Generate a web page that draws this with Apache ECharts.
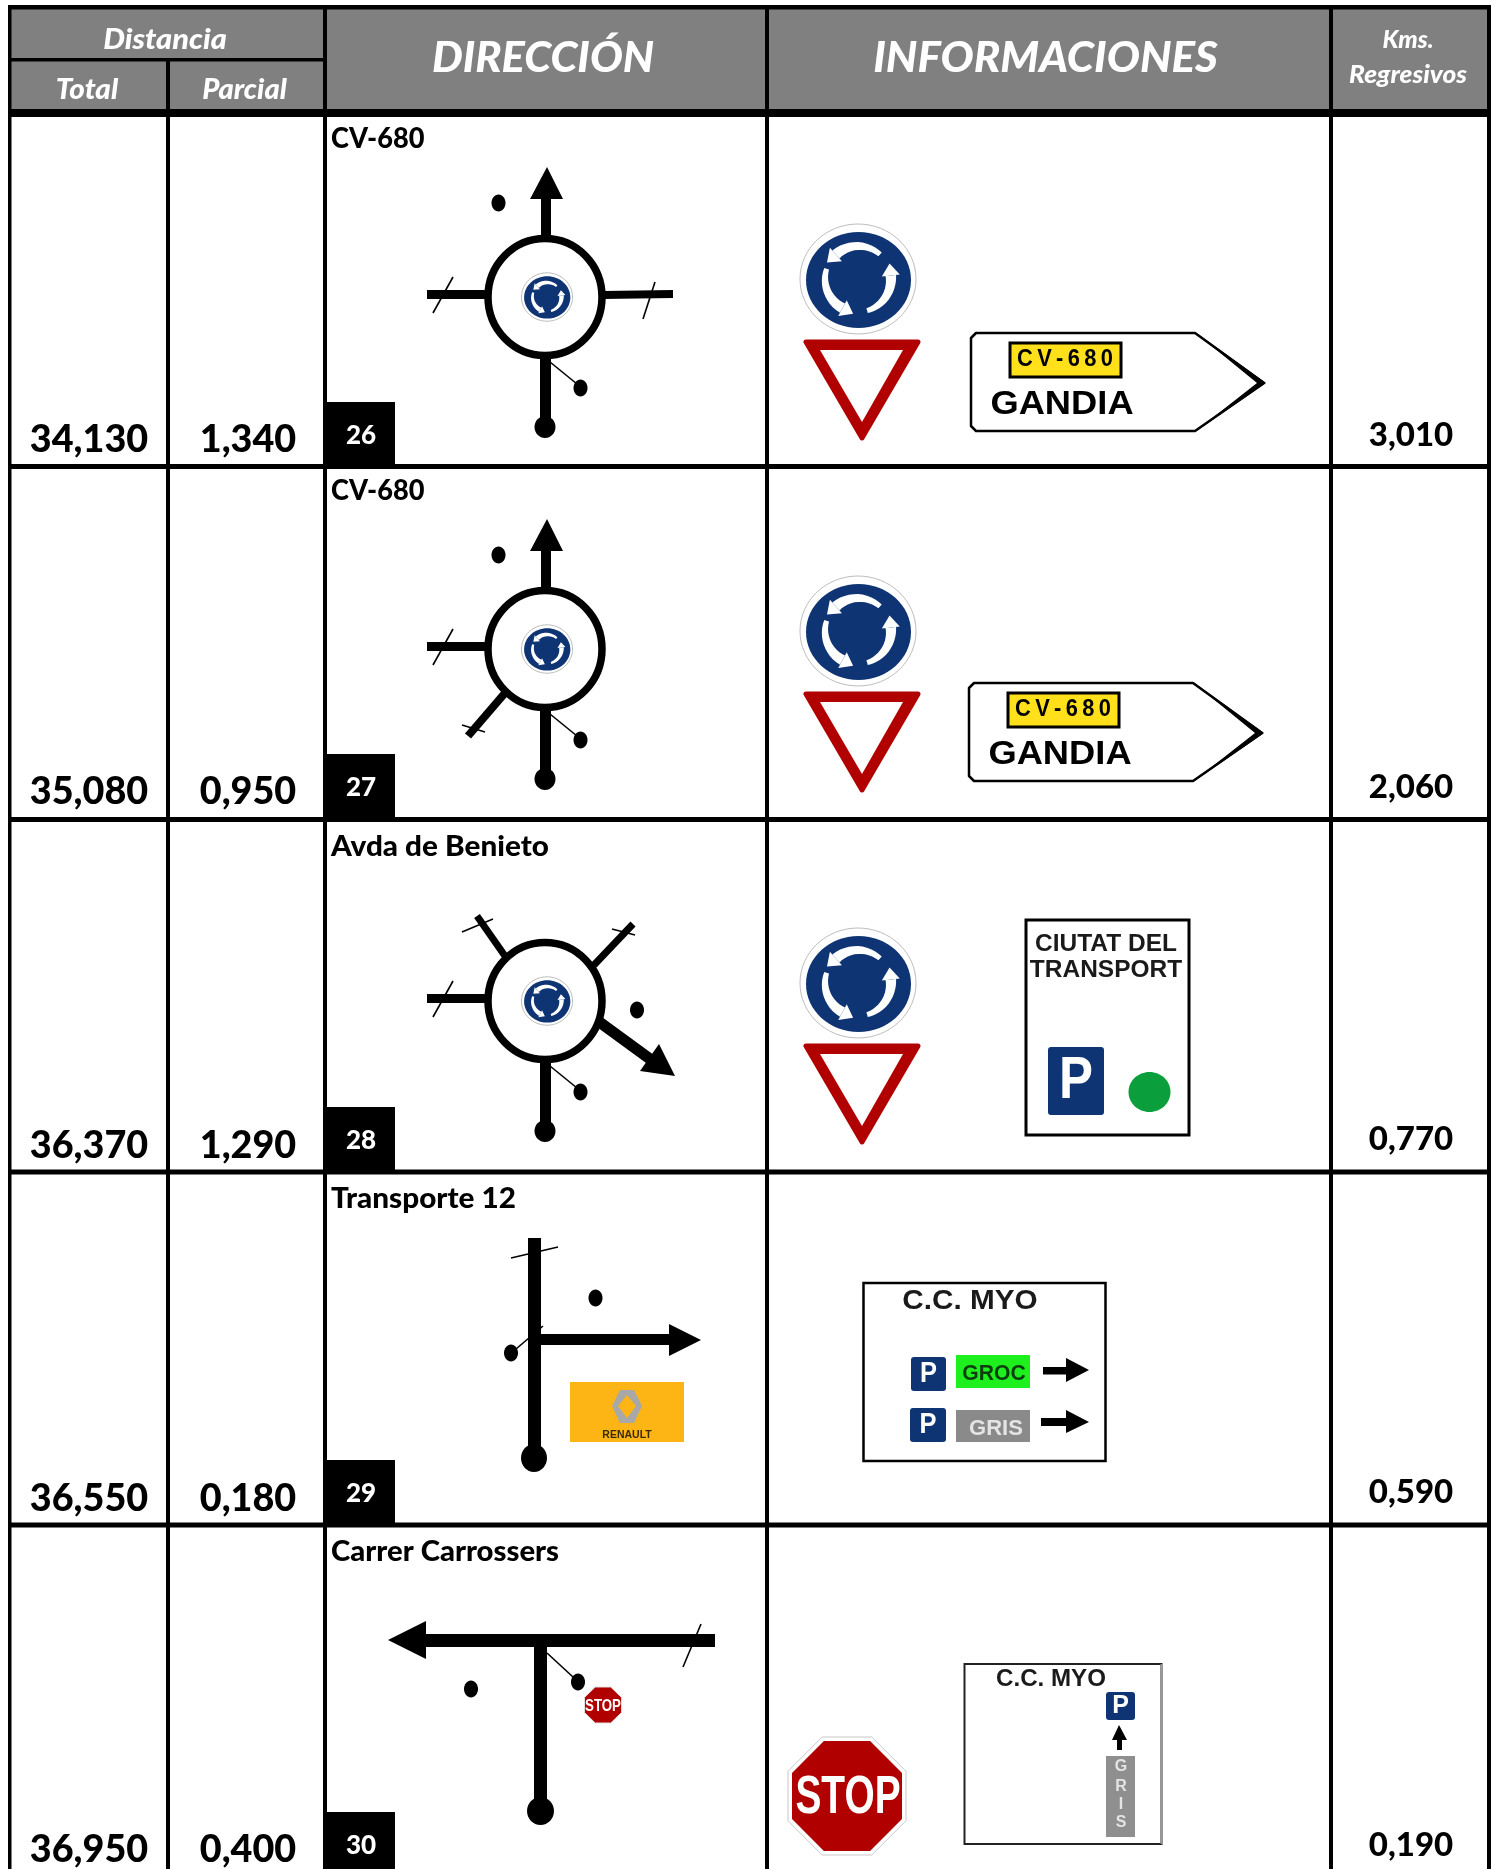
<!DOCTYPE html>
<html>
<head>
<meta charset="utf-8">
<title>Rutometro</title>
<style>
  html, body { margin: 0; padding: 0; background: #fff; }
  #main { width: 1497px; height: 1869px; }
</style>
<script src="https://cdn.jsdelivr.net/npm/echarts@6/dist/echarts.min.js"></script>
</head>
<body>
<div id="main"></div>
<script>
// valores de la tabla
const ids = [26, 27, 28, 29, 30]
const totals = ['34,130', '35,080', '36,370', '36,550', '36,950']
const partials = ['1,340', '0,950', '1,290', '0,180', '0,400']
const regressive = ['3,010', '2,060', '0,770', '0,590', '0,190']
const streets = ['CV-680', 'CV-680', 'Avda de Benieto', 'Transporte 12', 'Carrer Carrossers']
const headers = ['Distancia', 'Total', 'Parcial', 'DIRECCIÓN', 'INFORMACIONES', 'Kms.', 'Regresivos']

const WIDTH = 1497
const HEIGHT = 1869
const RIGHT = 1491
const GREY = '#808080'
const BLUE = '#0f3474'
const RED = '#b10000'
const BODY_FONT = 'Lato, Carlito, sans-serif'
const SIGN_FONT = '"Liberation Sans", Arial, sans-serif'

// filas: centro vertical de los textos y lineas
const rowLines = [466.5, 819.5, 1172, 1525]
const numberY = [440, 792, 1146, 1499, 1850]
const regressiveY = [435, 787, 1139, 1492, 1845]
const streetY = [139, 491, 847, 1199, 1552]
const streetScale = [0.97, 0.97, 1.06, 1.06, 1.045]
const idBoxTop = [402, 754, 1107, 1460, 1812]
const idBoxBottom = [466, 818, 1171, 1524, 1869]

/**
 * helpers de dibujo, todo pasa por los ejes
 */
function makeKit (api) {
  const c = (x, y) => api.coord([x, y])
  const pts = list => list.map(p => c(p[0], p[1]))
  const kit = {
    rect (x, y, w, h, fill, stroke, lw, r) {
      const p = c(x, y)
      return {
        type: 'rect',
        shape: { x: p[0], y: p[1], width: w, height: h, r: r || 0 },
        style: { fill: fill || 'none', stroke: stroke || 'none', lineWidth: lw || 0 }
      }
    },
    ellipse (x, y, rx, ry, fill, stroke, lw) {
      const p = c(x, y)
      return {
        type: 'ellipse',
        shape: { cx: p[0], cy: p[1], rx: rx, ry: ry },
        style: { fill: fill || 'none', stroke: stroke || 'none', lineWidth: lw || 0 }
      }
    },
    dot (x, y, r) {
      return kit.ellipse(x, y, r - 0.5, r + 1, '#000')
    },
    poly (list, fill, stroke, lw) {
      return {
        type: 'polygon',
        shape: { points: pts(list) },
        style: { fill: fill || 'none', stroke: stroke || 'none', lineWidth: lw || 0, lineJoin: 'round' }
      }
    },
    line (list, w, color) {
      return {
        type: 'polyline',
        shape: { points: pts(list) },
        style: { fill: 'none', stroke: color || '#000', lineWidth: w }
      }
    },
    text (str, x, y, font, fill, align, sx) {
      const p = c(x, y)
      return {
        type: 'text',
        x: p[0],
        y: p[1],
        scaleX: sx || 1,
        style: { text: str, font: font, fill: fill || '#000', textAlign: align || 'center', textVerticalAlign: 'middle' }
      }
    }
  }
  return kit
}

// flecha con punta triangular
function arrowHead (k, tip, a, b) {
  return k.poly([tip, a, b], '#000')
}

function roundSign (k, cx, cy, s) {
  const rx = 58 * s
  const ry = 55 * s
  const out = [
    k.ellipse(cx, cy, rx, ry, '#fff', '#bdbdbd', 1),
    k.ellipse(cx + 0.5 * s, cy + 1 * s, 52.5 * s, 48 * s, BLUE)
  ]
  // tres flechas curvas, sentido antihorario, se ensanchan hacia la punta
  const r = 33 * s
  const arcs = [[-48, -132], [198, 118], [74, -6]]
  arcs.forEach(function (arc) {
    const outer = []
    const inner = []
    const steps = 12
    for (let i = 0; i <= steps; i++) {
      const ang = (arc[0] + (arc[1] - arc[0]) * i / steps) * Math.PI / 180
      const w = (2.5 + 2.8 * i / steps) * s
      outer.push([cx + (r + w) * Math.cos(ang), cy + (r + w) * Math.sin(ang)])
      inner.unshift([cx + (r - w) * Math.cos(ang), cy + (r - w) * Math.sin(ang)])
    }
    out.push(k.poly(outer.concat(inner), '#fff'))
    const e = arc[1] * Math.PI / 180
    const ex = cx + r * Math.cos(e)
    const ey = cy + r * Math.sin(e)
    const tx = Math.sin(e)
    const ty = -Math.cos(e)
    out.push(k.poly([
      [ex + tx * 12 * s, ey + ty * 12 * s],
      [ex + Math.cos(e) * 9 * s, ey + Math.sin(e) * 9 * s],
      [ex - Math.cos(e) * 9 * s, ey - Math.sin(e) * 9 * s]
    ], '#fff'))
  })
  return out
}

function yieldSign (k, dy) {
  return [
    k.poly([[806, 342 + dy], [918, 342 + dy], [862, 438 + dy]], RED, RED, 5),
    k.poly([[820, 350 + dy], [903, 350 + dy], [862, 422 + dy]], '#fff')
  ]
}

function parkingSign (k, x, y, w, h) {
  return [
    k.rect(x, y, w, h, BLUE, null, 0, 3),
    k.text('P', x + w / 2, y + h * 0.5, 'bold ' + Math.round(h * 0.88) + 'px ' + SIGN_FONT, '#fff', 'center', w < 32 ? 1 : 0.85)
  ]
}

function octagon (k, cx, cy, rx, ry, fill, stroke, lw) {
  const a = 0.42
  return k.poly([
    [cx - rx * a, cy - ry], [cx + rx * a, cy - ry], [cx + rx, cy - ry * a], [cx + rx, cy + ry * a],
    [cx + rx * a, cy + ry], [cx - rx * a, cy + ry], [cx - rx, cy + ry * a], [cx - rx, cy - ry * a]
  ], fill, stroke, lw)
}

// cruces de cada fila
function roundabout (k, dy, arms) {
  const cy = 297 + dy
  return [
    k.rect(427, 290 + dy, 60, 9, '#000'),
    k.line([[453, 277 + dy], [433, 313 + dy]], 1.6),
    k.rect(540, 359 + dy - 3, 11, 72, '#000')
  ].concat(arms, [
    k.ellipse(545, cy, 57, 58.5, '#fff', '#000', 7.5),
    k.ellipse(545, 427 + dy, 10.5, 11, '#000'),
    k.line([[550, 362 + dy], [577, 384 + dy]], 1.6),
    k.dot(580.5, 388 + dy, 7.5)
  ], roundSign(k, 547, cy, 0.44))
}

function upArm (k, dy) {
  return [
    k.rect(541, 196 + dy, 10, 42, '#000'),
    arrowHead(k, [547, 167 + dy], [530, 199 + dy], [563, 199 + dy]),
    k.dot(498.5, 203 + dy, 7.5)
  ]
}

function diagram (k, row) {
  if (row === 0) {
    return roundabout(k, 0, upArm(k, 0).concat([
      k.poly([[603, 291], [673, 290], [673, 298], [603, 299]], '#000'),
      k.line([[655, 282], [643, 319]], 1.6)
    ]))
  }
  if (row === 1) {
    return roundabout(k, 352, upArm(k, 352).concat([
      k.line([[505, 693], [468, 736]], 8),
      k.line([[462, 725], [485, 732]], 1.6)
    ]))
  }
  if (row === 2) {
    return roundabout(k, 704, [
      k.line([[505, 956], [477, 916]], 7),
      k.line([[462, 932], [493, 919]], 1.6),
      k.line([[594, 965], [633, 924]], 7),
      k.line([[612, 929], [635, 935]], 1.6),
      k.line([[598, 1021], [650, 1059]], 11),
      arrowHead(k, [675, 1076], [659, 1044], [640, 1071]),
      k.dot(637, 1010, 7.5)
    ])
  }
  if (row === 3) {
    return [
      k.rect(528, 1238, 13, 220, '#000'),
      k.ellipse(534, 1458, 13, 14, '#000'),
      k.line([[511, 1258], [558, 1247]], 1.6),
      k.rect(541, 1334, 130, 11, '#000'),
      arrowHead(k, [701, 1340], [669, 1324], [669, 1356]),
      k.dot(595.5, 1298, 7.5),
      k.line([[543, 1326], [516, 1349]], 1.6),
      k.dot(511, 1353, 7.5),
      k.rect(570, 1382, 114, 60, '#fdb515'),
      k.poly([[620, 1390], [634, 1390], [642, 1406], [634, 1423], [620, 1423], [612, 1406]], '#a8a8a8'),
      k.poly([[627, 1395], [636, 1406], [627, 1418], [618, 1406]], '#fdb515'),
      k.text('RENAULT', 627, 1435, 'bold 10px ' + SIGN_FONT, '#3a2a00', 'center', 1.05)
    ]
  }
  return [
    k.rect(426, 1634, 289, 13, '#000'),
    arrowHead(k, [388, 1640], [426, 1621], [426, 1659]),
    k.rect(534, 1647, 13, 160, '#000'),
    k.ellipse(540.5, 1811, 13.5, 14, '#000'),
    k.line([[701, 1624], [683, 1667]], 1.6),
    k.line([[547, 1653], [573, 1677]], 1.6),
    k.dot(578, 1682, 7.5),
    k.dot(471, 1689, 7.5),
    octagon(k, 603, 1705, 18.5, 18, RED, '#e0e0e0', 1),
    k.text('STOP', 603, 1706, 'bold 17px ' + SIGN_FONT, '#fff', 'center', 0.78)
  ]
}

function dirSign (k, dx, dy) {
  const x = v => v + dx
  const y = v => v + dy
  return [
    k.poly([[x(976), y(333)], [x(1195), y(333)], [x(1264), y(383)], [x(1195), y(431)], [x(976), y(431)], [x(971), y(426)], [x(971), y(338)]], '#fff', '#000', 2.5),
    // el borde derecho engorda hacia la punta
    k.poly([[x(1195), y(332)], [x(1266), y(383)], [x(1195), y(432)], [x(1197), y(430)], [x(1257), y(383)], [x(1197), y(334)]], '#000'),
    k.rect(x(1010), y(343), 111, 34, '#ffe01b', '#000', 3),
    k.text('C\u2009V\u2009-\u20096\u20098\u20090', x(1065), y(360), 'bold 23px ' + SIGN_FONT, '#000', 'center', 0.95),
    k.text('GANDIA', x(1062), y(405), 'bold 33px ' + SIGN_FONT, '#000', 'center', 1.1)
  ]
}

function information (k, row) {
  if (row < 3) {
    const dy = row * 352
    const list = roundSign(k, 858, 279 + dy, 1).concat(yieldSign(k, dy))
    if (row === 0) return list.concat(dirSign(k, 0, 0))
    if (row === 1) return list.concat(dirSign(k, -2, 350))
    return list.concat([
      k.rect(1026, 920, 163, 215, '#fff', '#000', 3),
      k.text('CIUTAT DEL', 1106, 944, 'bold 24px ' + SIGN_FONT, '#1a1a1a', 'center', 1.02),
      k.text('TRANSPORT', 1106, 970, 'bold 24px ' + SIGN_FONT, '#1a1a1a', 'center', 1.02)
    ], parkingSign(k, 1048, 1047, 56, 68), [k.ellipse(1149.5, 1092, 21, 20, '#0a9e3c')])
  }
  if (row === 3) {
    return [
      k.rect(863.5, 1283, 242, 178, '#fff', '#000', 2.5),
      k.text('C.C. MYO', 970, 1302, 'bold 27px ' + SIGN_FONT, '#1a1a1a', 'center', 1.1)
    ].concat(parkingSign(k, 911, 1357, 35, 34), [
      k.rect(956, 1355, 74, 33, '#1ef01e'),
      k.text('GROC', 994, 1374, 'bold 22px ' + SIGN_FONT, '#0c3d0c', 'center', 0.96),
      k.rect(1043, 1367, 24, 7.5, '#000'),
      arrowHead(k, [1089, 1370], [1066, 1358], [1066, 1382])
    ], parkingSign(k, 910, 1408, 36, 34), [
      k.rect(956, 1410, 74, 32, '#8a8a8a'),
      k.text('GRIS', 996, 1429, 'bold 22px ' + SIGN_FONT, '#e4e4e4', 'center', 1.0),
      k.rect(1041, 1418, 25, 8, '#000'),
      arrowHead(k, [1089, 1422], [1066, 1410], [1066, 1433])
    ])
  }
  return [
    octagon(k, 847, 1796, 59, 59, '#fff', '#c8c8c8', 1),
    octagon(k, 847, 1796, 55, 55, RED),
    k.text('STOP', 848, 1798, 'bold 54px ' + SIGN_FONT, '#fff', 'center', 0.72),
    k.rect(964.5, 1664, 197, 180, '#fff', '#222', 2),
    k.rect(1160.5, 1664, 2, 180, '#9a9a9a'),
    k.text('C.C. MYO', 1051, 1680, 'bold 23px ' + SIGN_FONT, '#1a1a1a', 'center', 1.05)
  ].concat(parkingSign(k, 1106, 1692, 29, 28), [
    k.rect(1117, 1736, 5, 14, '#000'),
    arrowHead(k, [1119, 1725], [1112, 1740], [1127, 1740]),
    k.rect(1106, 1756, 29, 81, '#8f8f8f'),
    k.text('G', 1121, 1767, 'bold 16px ' + SIGN_FONT, '#e4e4e4'),
    k.text('R', 1121, 1787, 'bold 16px ' + SIGN_FONT, '#e4e4e4'),
    k.text('I', 1121, 1805, 'bold 16px ' + SIGN_FONT, '#e4e4e4'),
    k.text('S', 1121, 1823, 'bold 16px ' + SIGN_FONT, '#e4e4e4')
  ])
}

function renderFrame (params, api) {
  const k = makeKit(api)
  const headerFont = size => 'italic 900 ' + size + 'px ' + BODY_FONT
  const w = RIGHT - 8
  const children = [
    k.rect(8, 5, w, 104, GREY),
    // lineas de la cabecera
    k.rect(8, 5, w, 4.5, '#000'),
    k.rect(8, 109, w, 8, '#000'),
    k.rect(8, 58, 316, 3.5, '#000'),
    k.rect(166, 60, 4, 50, '#000'),
    // columnas
    k.rect(8, 5, 3.5, 1864, '#000'),
    k.rect(166, 110, 4, 1759, '#000'),
    k.rect(323, 5, 4, 1864, '#000'),
    k.rect(765, 5, 4, 1864, '#000'),
    k.rect(1329, 5, 4, 1864, '#000'),
    k.rect(1487, 5, 4, 1864, '#000'),
    k.text(headers[0], 165, 40, headerFont(29), '#fff', 'center', 1.06),
    k.text(headers[1], 87, 90, headerFont(28), '#fff', 'center', 1.06),
    k.text(headers[2], 244.5, 90, headerFont(28), '#fff', 'center', 1.04),
    k.text(headers[3], 543, 58, headerFont(42), '#fff', 'center', 1.035),
    k.text(headers[4], 1045.5, 58, headerFont(42), '#fff', 'center', 1.045),
    k.text(headers[5], 1408, 40, headerFont(24), '#fff', 'center', 1.02),
    k.text(headers[6], 1408, 75, headerFont(25), '#fff', 'center', 1.05)
  ]
  rowLines.forEach(function (y) {
    children.push(k.rect(8, y - 2.5, w, 5, '#000'))
  })
  return { type: 'group', children: children }
}

function renderRow (params, api) {
  const row = api.value(0)
  const k = makeKit(api)
  const bold = size => '900 ' + size + 'px ' + BODY_FONT
  const children = [].concat(diagram(k, row), information(k, row), [
    k.text(totals[row], 89, numberY[row], bold(37), '#000', 'center', 1.02),
    k.text(partials[row], 248, numberY[row], bold(37), '#000', 'center', 1.02),
    k.text(regressive[row], 1411, regressiveY[row], bold(33), '#000', 'center', 1.0),
    k.text(streets[row], 331, streetY[row], bold(28), '#000', 'left', streetScale[row]),
    k.rect(327, idBoxTop[row], 68, idBoxBottom[row] - idBoxTop[row], '#000'),
    k.text(String(ids[row]), 361, idBoxTop[row] + 34, bold(26), '#fff', 'center', 1.0)
  ])
  return { type: 'group', children: children }
}

const chart = echarts.init(document.getElementById('main'), null, { renderer: 'canvas' })
chart.setOption({
  animation: false,
  backgroundColor: '#fff',
  grid: { left: 0, right: 0, top: 0, bottom: 0 },
  xAxis: { type: 'value', min: 0, max: WIDTH, show: false },
  yAxis: { type: 'value', min: 0, max: HEIGHT, inverse: true, show: false },
  tooltip: { show: false },
  series: [
    {
      type: 'custom',
      silent: true,
      z: 3,
      coordinateSystem: 'cartesian2d',
      renderItem: renderFrame,
      data: [[0]]
    },
    {
      type: 'custom',
      silent: true,
      z: 2,
      coordinateSystem: 'cartesian2d',
      renderItem: renderRow,
      data: ids.map((id, i) => [i])
    }
  ]
})
</script>
</body>
</html>
